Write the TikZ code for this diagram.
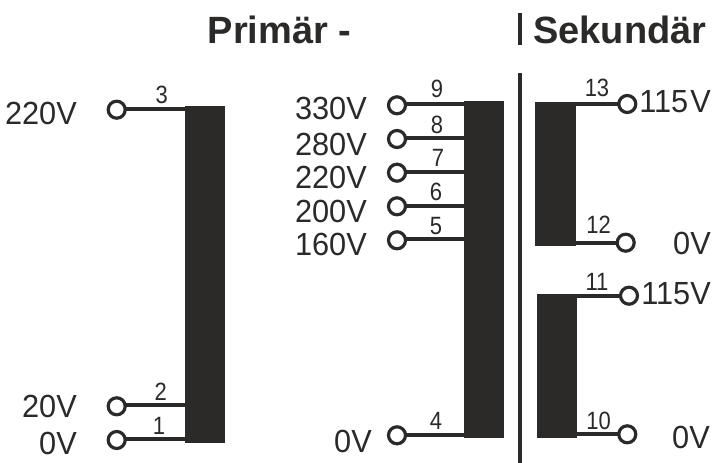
\documentclass[tikz,border=0pt]{standalone}
\usepackage{fontspec}
\setmainfont{Liberation Sans}
\newfontfamily\voltfont[FakeStretch=0.96]{Liberation Sans}
\newfontfamily\numfont[FakeStretch=0.88]{Liberation Sans}
\definecolor{ink}{HTML}{2B2A29}
\tikzset{
  x=1pt,y=-1pt,
  core/.style={fill=ink,draw=none,inner sep=0,outer sep=0,anchor=north west},
  term/.style={circle,draw=ink,line width=3.2pt,fill=white,minimum size=17pt,inner sep=0,outer sep=0},
  wire/.style={draw=ink,line width=4pt},
  bar/.style={draw=ink,line width=3.5pt},
  volt/.style={inner sep=0,text=ink,font=\voltfont\fontsize{32}{32}\selectfont},
  num/.style={inner sep=0,text=ink,anchor=base,font=\numfont\fontsize{25}{25}\selectfont},
  head/.style={inner sep=0,text=ink,anchor=base west,font=\bfseries\fontsize{38}{38}\selectfont},
}
\newcommand{\corebox}[5]{\node[core,minimum width=#4pt,minimum height=#5pt] (#1) at (#2,#3) {};}
\begin{document}
\begin{tikzpicture}
\useasboundingbox[fill=white] (0,0) rectangle (716,463);
% headings and divider
\node[head] (hp) at (207.5,43.3) {Primär -};
\node[head] (hs) at (533,43.3) {Sekundär};
\coordinate (da) at (520,13); \coordinate (db) at (520,45);
\coordinate (dc) at (520,73); \coordinate (dd) at (520,463);
\draw[bar] (da) -- (db);
\draw[bar] (dc) -- (dd);
% cores
\corebox{ca}{184.7}{106}{40.3}{336.8}
\corebox{cb}{463.7}{101}{40.3}{337}
\corebox{cc}{535}{102}{40.7}{144}
\corebox{cd}{537}{293.7}{40.3}{144.3}
% terminals
\foreach \n/\x/\y in {t3/116.7/109.7,t2/116.7/406.3,t1/116.7/440,
  t9/397/105.3,t8/397/139,t7/397/172.7,t6/397/206.3,t5/397/240.3,t4/397/435.3,
  t13/627.3/104,t12/625.7/242.7,t11/629/295.7,t10/627.3/434.3}
  {\node[term] (\n) at (\x,\y) {};}
% wire levels
\foreach \n/\y in {w3/108.5,w2/405.3,w1/439.3,w9/104.3,w8/138,w7/171.7,w6/205.5,w5/239.3,w4/434.5,
  w13/104,w12/242.7,w11/295.7,w10/434.3}
  {\coordinate (\n) at (0,\y);}
% wires
\draw[wire] (t3.east |- w3) -- (ca.west |- w3);
\draw[wire] (t2.east |- w2) -- (ca.west |- w2);
\draw[wire] (t1.east |- w1) -- (ca.west |- w1);
\draw[wire] (t9.east |- w9) -- (cb.west |- w9);
\draw[wire] (t8.east |- w8) -- (cb.west |- w8);
\draw[wire] (t7.east |- w7) -- (cb.west |- w7);
\draw[wire] (t6.east |- w6) -- (cb.west |- w6);
\draw[wire] (t5.east |- w5) -- (cb.west |- w5);
\draw[wire] (t4.east |- w4) -- (cb.west |- w4);
\draw[wire] (cc.east |- w13) -- (t13.west |- w13);
\draw[wire] (cc.east |- w12) -- (t12.west |- w12);
\draw[wire] (cd.east |- w11) -- (t11.west |- w11);
\draw[wire] (cd.east |- w10) -- (t10.west |- w10);
% pin numbers
\foreach \n/\t/\x/\y in {n3/3/161.7/103,n2/2/160.7/400,n1/1/159/434.7,
  n9/9/437/97.7,n8/8/437/133,n7/7/438/166.7,n6/6/436/200,n5/5/436/234.5,n4/4/436/429.7,
  n13/13/597/96.7,n12/12/598.7/233,n11/11/597/290,n10/10/598.7/429.7}
  {\node[num] (\n) at (\x,\y) {\t};}
% voltages
\foreach \n/\t/\x/\y in {v1/220V/77/124,v2/20V/77/417,v3/0V/77/454.7,
  v4/330V/367/119,v5/280V/367/155,v6/220V/367/188,v7/200V/367/222,v8/160V/367/255,v9/0V/372/452,
  v11/0V/711/254,v12/115V/711/304,v13/0V/710/448}
  {\node[volt,anchor=base east] (\n) at (\x,\y) {\t};}
\node[volt,anchor=base east] (v10) at (711,112) {115\hspace{2pt}V};
\end{tikzpicture}
\end{document}
